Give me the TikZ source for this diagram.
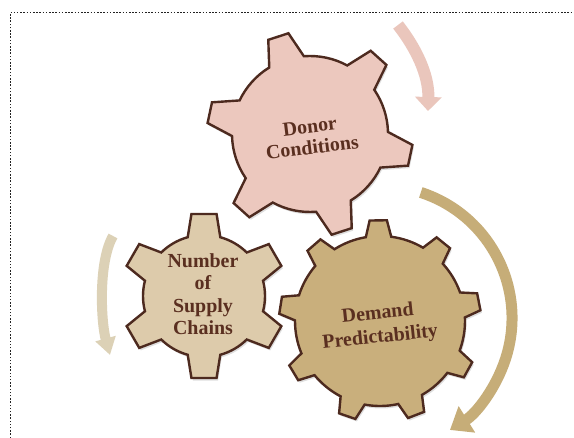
\documentclass[tikz,border=0pt]{standalone}
\usepackage{fontspec}
\setmainfont{Liberation Serif}
\usetikzlibrary{arrows.meta}
\definecolor{gearline}{HTML}{4D2A1F}
\definecolor{geartext}{HTML}{5A2F20}
\definecolor{pinkfill}{HTML}{ECC8BE}
\definecolor{sandfill}{HTML}{DDCBAB}
\definecolor{tanfill}{HTML}{C9AF7C}
\definecolor{pinkarrow}{HTML}{EAC6BC}
\definecolor{tanarrow}{HTML}{C6AD78}
\definecolor{sandarrow}{HTML}{DCD1B6}
\definecolor{borderdots}{HTML}{222222}

% #1 style, #2 center, #3 teeth, #4 first tooth angle, #5 body radius,
% #6 outer radius, #7 half tip angle, #8 half base angle
\newcommand{\drawmygear}[8]{%
  \pgfmathsetmacro{\gstep}{360/#3}%
  \pgfmathtruncatemacro{\glast}{#3-1}%
  \pgfmathsetmacro{\gstart}{#4-#8}%
  \begin{scope}[shift={(#2)}]
    \fill[black, opacity=0.13, shift={(1.5,2.5)}] (\gstart:#5)
      \foreach \k [evaluate=\k as \ta using #4+\k*\gstep-#8,
                   evaluate=\k as \tb using #4+\k*\gstep-#7,
                   evaluate=\k as \tc using #4+\k*\gstep+#7,
                   evaluate=\k as \td using #4+\k*\gstep+#8,
                   evaluate=\k as \te using #4+(\k+1)*\gstep-#8] in {0,...,\glast}
      { -- (\ta:#5) -- (\tb:#6) -- (\tc:#6) -- (\td:#5)
        arc[start angle=\td, end angle=\te, radius=#5] } -- cycle;
    \draw[#1] (\gstart:#5)
      \foreach \k [evaluate=\k as \ta using #4+\k*\gstep-#8,
                   evaluate=\k as \tb using #4+\k*\gstep-#7,
                   evaluate=\k as \tc using #4+\k*\gstep+#7,
                   evaluate=\k as \td using #4+\k*\gstep+#8,
                   evaluate=\k as \te using #4+(\k+1)*\gstep-#8] in {0,...,\glast}
      { -- (\ta:#5) -- (\tb:#6) -- (\tc:#6) -- (\td:#5)
        arc[start angle=\td, end angle=\te, radius=#5] } -- cycle;
  \end{scope}%
}

\tikzset{
  gearshape/.style={draw=gearline, line width=2.4bp, line join=miter},
  geartxt/.style={font=\bfseries\fontsize{20}{#1}\selectfont, text=geartext,
                  align=center, inner sep=0pt},
  turnarrow/.style={line cap=butt},
  borderline/.style={draw=borderdots, line width=1.5bp, dash pattern=on 1.5bp off 1.7bp}
}

\begin{document}
\begin{tikzpicture}[x=1bp, y=-1bp]
\useasboundingbox (0,0) rectangle (574,438);
\fill[white] (0,0) rectangle (574,438);

% dotted frame (top and left only visible)
\coordinate (fbl) at (10.5,438);
\coordinate (ftl) at (10.5,12.5);
\coordinate (ftr) at (574,12.5);
\draw[borderline] (fbl) -- (ftl) -- (ftr);

% gears
\drawmygear{gearshape, fill=pinkfill}{310,134}{6}{-108}{78}{103}{5.9}{13.5}
\drawmygear{gearshape, fill=sandfill}{204,296}{6}{-90}{61}{83}{8.7}{15.5}
\drawmygear{gearshape, fill=tanfill}{380,321}{9}{-91}{85}{101}{4.9}{8.6}

% labels
\node[geartxt=21bp, rotate=7] (donor) at (311,137) {Donor\\Conditions};
\node[geartxt=22.4bp] (supply) at (203,294) {Number\\of\\Supply\\Chains};
\node[geartxt=24bp, rotate=6] (demand) at (379,326) {Demand\\Predictability};

% rotation arrows
\coordinate (pa0) at (398,25);
\coordinate (pa1) at (428,111);
\draw[turnarrow, pinkarrow, line width=12bp, -{Triangle[width=26bp,length=14bp]}]
  (pa0) .. controls (416,48) and (429,75) .. (pa1);

\coordinate (bigc) at (380,318);
\draw[turnarrow, tanarrow, line width=11bp, -{Triangle[width=30bp,length=20bp]}]
  (bigc) ++(-72:132) arc[start angle=-72, end angle=58, radius=132];

\coordinate (la0) at (113,236);
\coordinate (la1) at (110,355);
\draw[turnarrow, sandarrow, line width=10bp, -{Triangle[width=20bp,length=17bp]}]
  (la0) .. controls (98,262) and (101,322) .. (la1);
\end{tikzpicture}
\end{document}
